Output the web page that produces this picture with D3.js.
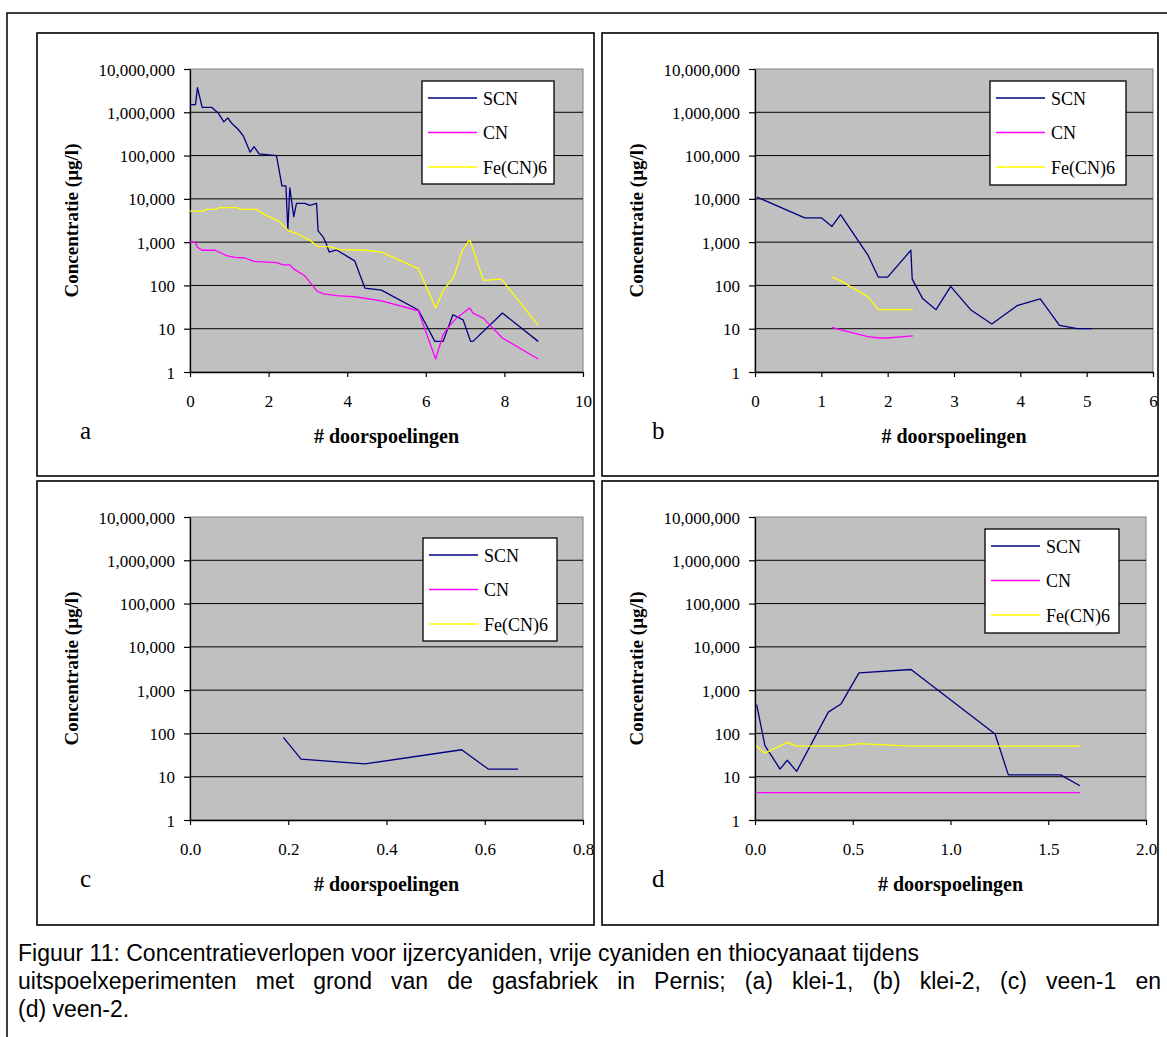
<!DOCTYPE html>
<html>
<head>
<meta charset="utf-8">
<script src="https://cdn.jsdelivr.net/npm/d3@7"></script>
<style>
  body { margin: 0; background: #fff; }
  svg text { font-family: "Liberation Serif", "Times New Roman", serif; fill: #000; }
  svg text.caption { font-family: "Liberation Sans", Arial, sans-serif; }
</style>
</head>
<body>
<svg id="fig" width="1167" height="1037"></svg>
<script>
// Reeksen en kleuren
const seriesNames = ["SCN", "CN", "Fe(CN)6"];
const seriesColors = ["#000080", "#FF00FF", "#FFFF00"];
const yTicks = [1, 10, 100, 1000, 10000, 100000, 1000000, 10000000];

// (a) klei-1
const aSCN = [[0, 1500000], [0.14, 1500000], [0.19, 3700000], [0.31, 1300000], [0.55, 1300000],
  [0.72, 960000], [0.86, 600000], [0.96, 740000], [1.06, 560000], [1.23, 400000], [1.36, 280000],
  [1.53, 120000], [1.63, 160000], [1.76, 110000], [2.2, 100000], [2.34, 20000], [2.44, 20000],
  [2.49, 1950], [2.54, 18000], [2.64, 3900], [2.71, 7900], [2.92, 7900], [3.05, 7100], [3.22, 7900],
  [3.26, 1830], [3.39, 1300], [3.46, 960], [3.54, 590], [3.73, 660], [4.19, 370], [4.45, 87],
  [4.87, 78], [5.81, 27], [6.23, 5.1], [6.44, 5.1], [6.69, 21], [6.95, 16], [7.14, 5.1], [7.2, 5.1],
  [7.95, 23], [8.86, 5.1]];
const aCN = [[0, 1000], [0.13, 1000], [0.19, 760], [0.31, 650], [0.64, 650], [0.93, 490], [1.14, 445],
  [1.4, 430], [1.63, 360], [2.2, 335], [2.37, 300], [2.53, 300], [2.63, 245], [2.92, 167], [3.09, 107],
  [3.24, 73], [3.41, 64], [3.73, 58], [4.24, 54], [4.87, 44], [5.81, 26], [6.25, 2], [6.44, 7.3],
  [6.63, 12.4], [6.78, 17.6], [7.12, 30], [7.2, 23], [7.46, 17.6], [7.95, 6.1], [8.86, 2]];
const aFe = [[0, 5200], [0.34, 5200], [0.41, 5700], [0.64, 5700], [0.75, 6300], [1.19, 6300],
  [1.31, 5700], [1.69, 5700], [1.95, 4100], [2.25, 3100], [2.5, 1850], [2.75, 1540], [3.05, 1100],
  [3.24, 800], [3.56, 790], [3.81, 670], [4.49, 650], [4.87, 590], [5.81, 245], [6.25, 30],
  [6.44, 76], [6.71, 155], [6.93, 650], [7.12, 1140], [7.47, 131], [7.92, 140], [8.86, 12]];

// (b) klei-2
const bSCN = [[0.03, 11000], [0.75, 3650], [1.0, 3650], [1.16, 2300], [1.29, 4300], [1.7, 510],
  [1.86, 155], [2.0, 155], [2.35, 650], [2.37, 140], [2.53, 49], [2.73, 27.5], [2.95, 95], [3.25, 27.5],
  [3.57, 12.8], [3.95, 34], [4.3, 49], [4.59, 12], [4.86, 10], [5.08, 10]];
const bCN = [[1.16, 10.7], [1.28, 9.5], [1.7, 6.6], [1.88, 6.1], [2.0, 6.1], [2.38, 6.8]];
const bFe = [[1.16, 155], [1.28, 131], [1.7, 55], [1.86, 27.5], [2.38, 27.5]];

// (c) veen-1
const cSCN = [[0.19, 81], [0.226, 25.6], [0.356, 19.7], [0.553, 42], [0.607, 15], [0.668, 15]];
const cCN = [];
const cFe = [];

// (d) veen-2
const dSCN = [[0.0085, 460], [0.051, 52], [0.128, 15], [0.165, 24], [0.213, 13.3], [0.375, 310],
  [0.44, 480], [0.532, 2500], [0.798, 3000], [1.228, 97], [1.296, 11], [1.563, 11], [1.662, 6.2]];
const dCN = [[0.0085, 4.3], [0.051, 4.3], [0.128, 4.3], [0.213, 4.3], [0.44, 4.3], [0.798, 4.3],
  [1.228, 4.3], [1.563, 4.3], [1.662, 4.3]];
const dFe = [[0.0085, 51], [0.051, 35], [0.165, 62], [0.21, 51], [0.44, 51], [0.532, 58],
  [0.798, 51], [1.662, 51]];

const aXTicks = [0, 2, 4, 6, 8, 10];
const bXTicks = [0, 1, 2, 3, 4, 5, 6];
const cXTicks = [0, 0.2, 0.4, 0.6, 0.8];
const dXTicks = [0, 0.5, 1.0, 1.5, 2.0];

const captionLines = [
  "Figuur 11: Concentratieverlopen voor ijzercyaniden, vrije cyaniden en thiocyanaat tijdens",
  "uitspoelxeperimenten met grond van de gasfabriek in Pernis; (a) klei-1, (b) klei-2, (c) veen-1 en",
  "(d) veen-2."
];

const SERIF = '"Liberation Serif", "Times New Roman", serif';

// Opmaak per paneel
const panels = [
  { letter: "a", box: [37, 33, 557, 443], plot: [190, 583, 69, 372], dom: [0, 10], ticks: aXTicks,
    fmt: d3.format("d"), legend: [422, 81, 132, 103], data: [aSCN, aCN, aFe], lx: 80 },
  { letter: "b", box: [602, 33, 556, 443], plot: [755, 1153, 69, 372], dom: [0, 6], ticks: bXTicks,
    fmt: d3.format("d"), legend: [990, 81, 136, 104], data: [bSCN, bCN, bFe], lx: 652 },
  { letter: "c", box: [37, 481, 557, 444], plot: [190, 583, 517, 820], dom: [0, 0.8], ticks: cXTicks,
    fmt: d3.format(".1f"), legend: [423, 538, 134, 103], data: [cSCN, cCN, cFe], lx: 80 },
  { letter: "d", box: [602, 481, 556, 444], plot: [755, 1146, 517, 820], dom: [0, 2], ticks: dXTicks,
    fmt: d3.format(".1f"), legend: [985, 529, 134, 104], data: [dSCN, dCN, dFe], lx: 652 }
];

const svg = d3.select("#fig");

// buitenkader
svg.append("rect")
  .attr("x", 7).attr("y", 13).attr("width", 1170).attr("height", 1040)
  .attr("fill", "none").attr("stroke", "#000").attr("stroke-width", 1.5);

panels.forEach((p) => {
  const g = svg.append("g");
  const [px0, px1, py0, py1] = p.plot;

  g.append("rect")
    .attr("x", p.box[0]).attr("y", p.box[1]).attr("width", p.box[2]).attr("height", p.box[3])
    .attr("fill", "#fff").attr("stroke", "#000").attr("stroke-width", 1.6);

  const x = d3.scaleLinear().domain(p.dom).range([px0, px1]);
  const y = d3.scaleLog().domain([1, 10000000]).range([py1, py0]);

  // grijs plotvlak
  g.append("rect")
    .attr("x", px0).attr("y", py0).attr("width", px1 - px0).attr("height", py1 - py0)
    .attr("fill", "#C0C0C0").attr("stroke", "#808080").attr("stroke-width", 1);

  // rasterlijnen
  g.selectAll(".grid")
    .data(yTicks.slice(1, -1))
    .enter()
    .append("line")
    .attr("x1", px0).attr("x2", px1)
    .attr("y1", (d) => y(d)).attr("y2", (d) => y(d))
    .attr("stroke", "#000").attr("stroke-width", 1);

  // assen
  const yAxis = g.append("g")
    .attr("transform", `translate(${px0},0)`)
    .call(d3.axisLeft(y).tickValues(yTicks).tickFormat(d3.format(",")).tickSize(6).tickSizeOuter(0).tickPadding(9));
  yAxis.selectAll("text").attr("dy", "0.36em");

  const xAxis = g.append("g")
    .attr("transform", `translate(0,${py1})`)
    .call(d3.axisBottom(x).tickValues(p.ticks).tickFormat(p.fmt).tickSize(5).tickSizeOuter(0).tickPadding(18));
  [yAxis, xAxis].forEach((ax) => {
    ax.attr("font-family", null).attr("font-size", null);
    ax.selectAll("text").style("font-family", SERIF).style("font-size", "17px").attr("fill", "#000");
    ax.select(".domain").attr("stroke", "#000").attr("stroke-width", 1.3);
    ax.selectAll(".tick line").attr("stroke", "#000").attr("stroke-width", 1.2);
  });

  // lijnen
  const line = d3.line().x((d) => x(d[0])).y((d) => y(d[1]));
  p.data.forEach((s, i) => {
    if (!s.length) return;
    g.append("path")
      .datum(s)
      .attr("d", line)
      .attr("fill", "none")
      .attr("stroke", seriesColors[i])
      .attr("stroke-width", 1.3)
      .attr("stroke-linejoin", "round");
  });

  // astitels
  g.append("text")
    .attr("transform", `translate(${p.box[0] + 41},${(py0 + py1) / 2}) rotate(-90)`)
    .attr("text-anchor", "middle")
    .style("font-family", SERIF).style("font-size", "19px").style("font-weight", "bold")
    .text("Concentratie (µg/l)");

  g.append("text")
    .attr("x", (px0 + px1) / 2).attr("y", py1 + 71)
    .attr("text-anchor", "middle")
    .style("font-family", SERIF).style("font-size", "20px").style("font-weight", "bold")
    .text("# doorspoelingen");

  g.append("text")
    .attr("x", p.lx).attr("y", py1 + 67)
    .style("font-family", SERIF).style("font-size", "25px")
    .text(p.letter);

  // legenda
  const [lx, ly, lw, lh] = p.legend;
  const lg = g.append("g").attr("transform", `translate(${lx},${ly})`);
  lg.append("rect")
    .attr("width", lw).attr("height", lh)
    .attr("fill", "#fff").attr("stroke", "#000").attr("stroke-width", 1.3);
  seriesNames.forEach((name, i) => {
    const yy = 17 + i * 34.5;
    lg.append("line")
      .attr("x1", 6).attr("x2", 55).attr("y1", yy).attr("y2", yy)
      .attr("stroke", seriesColors[i]).attr("stroke-width", 1.3);
    lg.append("text")
      .attr("x", 61).attr("y", yy + 6.5)
      .style("font-family", SERIF).style("font-size", "18px")
      .text(name);
  });
});

// bijschrift (tweede regel uitgevuld tot de rechterrand)
const cap = svg.selectAll(".caption")
  .data(captionLines)
  .enter()
  .append("text")
  .attr("class", "caption")
  .attr("x", 18)
  .attr("y", (d, i) => 961 + i * 28)
  .style("font-size", "23px")
  .text((d) => d);

cap.filter((d, i) => i === 1).each(function (d) {
  const natural = this.getComputedTextLength();
  const spaces = d.split(" ").length - 1;
  const extra = (1161 - 18 - natural) / spaces;
  if (extra > 0) d3.select(this).style("word-spacing", extra + "px");
});
</script>
</body>
</html>
